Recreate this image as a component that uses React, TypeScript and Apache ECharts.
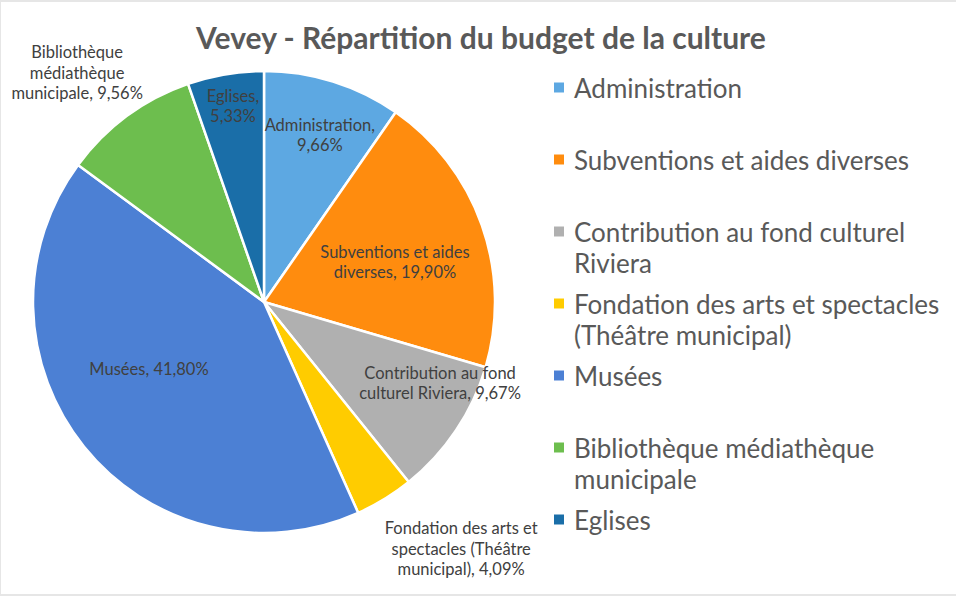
import React, { useEffect, useRef } from "react";
import * as echarts from "echarts";

const TITLE = "Vevey - Répartition du budget de la culture";
const categories = [
  "Administration",
  "Subventions et aides diverses",
  "Contribution au fond culturel Riviera",
  "Fondation des arts et spectacles (Théâtre municipal)",
  "Musées",
  "Bibliothèque médiathèque municipale",
  "Eglises",
];
const values = [9.66, 19.9, 9.67, 4.09, 41.8, 9.56, 5.33];
// how the names wrap in the slice labels and in the legend
const labelNames = [
  "Administration,\n",
  "Subventions et aides\ndiverses, ",
  "Contribution au fond\nculturel Riviera, ",
  "Fondation des arts et\nspectacles (Théâtre\nmunicipal), ",
  "Musées, ",
  "Bibliothèque\nmédiathèque\nmunicipale, ",
  "Eglises,\n",
];
const legendNames = [
  "Administration",
  "Subventions et aides diverses",
  "Contribution au fond culturel\nRiviera",
  "Fondation des arts et spectacles\n(Théâtre municipal)",
  "Musées",
  "Bibliothèque médiathèque\nmunicipale",
  "Eglises",
];
const colors = ["#5DA8E2", "#FF8C0E", "#B0B0B0", "#FFCC00", "#4C80D4", "#6DBE4E", "#1A6EA8"];

// label anchors: [angle in degrees clockwise from 12 o'clock, fraction of radius]
const labelAnchors: [number, number][] = [
  [18.5, 0.762],
  [73.0, 0.593],
  [114.7, 0.839],
  [141.4, 1.368],
  [239.8, 0.576],
  [320.8, 1.28],
  [351.0, 0.859],
];

const CX = 264;
const CY = 302;
const R = 231;

export default function App() {
  const ref = useRef<HTMLDivElement>(null);
  useEffect(() => {
    if (!ref.current) return;
    const chart = echarts.init(ref.current, null, { renderer: "svg" });
    const fmt = (v: number) => v.toFixed(2).replace(".", ",") + "%";
    chart.setOption({
      animation: false,
      backgroundColor: "#ffffff",
      color: colors,
      textStyle: { fontFamily: "Lato" },
      title: {
        text: TITLE,
        left: 481,
        top: 22,
        padding: 0,
        textAlign: "center",
        textStyle: { fontFamily: "Lato", fontWeight: "bold", fontSize: 30, color: "#595959" },
      },
      legend: {
        orient: "vertical",
        left: 552,
        top: 41,
        padding: 0,
        itemWidth: 12,
        itemHeight: 12,
        itemGap: -21,
        icon: "rect",
        selectedMode: false,
        data: categories,
        formatter: (name: string) => {
          const t = legendNames[categories.indexOf(name)];
          return " \n" + t + (t.indexOf("\n") < 0 ? "\n " : "");
        },
        textStyle: {
          fontFamily: "Lato",
          fontSize: 26,
          lineHeight: 31,
          color: "#595959",
          padding: [0, 0, 0, 4],
        },
      },
      series: [
        {
          type: "pie",
          center: [CX, CY],
          radius: R,
          startAngle: 90,
          clockwise: true,
          avoidLabelOverlap: false,
          itemStyle: { borderColor: "#ffffff", borderWidth: 2.5 },
          label: {
            show: true,
            position: "inside",
            fontFamily: "Lato",
            fontSize: 16.5,
            lineHeight: 20.5,
            color: "#404040",
            align: "center",
            formatter: (p: any) => labelNames[p.dataIndex] + fmt(p.value),
          },
          labelLine: { show: false },
          labelLayout: (p: any) => {
            const [a, f] = labelAnchors[p.dataIndex];
            const rad = (a * Math.PI) / 180;
            return {
              x: CX + f * R * Math.sin(rad),
              y: CY - f * R * Math.cos(rad),
              align: "center",
              verticalAlign: "middle",
            };
          },
          emphasis: { disabled: true },
          data: categories.map((c, i) => ({ name: c, value: values[i] })),
        },
      ],
    });
    return () => chart.dispose();
  }, []);
  return (
    <div style={{ position: "fixed", left: 0, top: 0, width: 956, height: 596 }}>
      <div ref={ref} style={{ position: "absolute", left: 0, top: 0, width: 956, height: 596 }} />
      <div
        style={{
          position: "absolute",
          left: 0,
          top: 0,
          width: 956,
          height: 596,
          boxSizing: "border-box",
          borderTop: "2px solid #e6e6e6",
          borderLeft: "1px solid #e6e6e6",
          borderBottom: "2px solid #e6e6e6",
          pointerEvents: "none",
        }}
      />
    </div>
  );
}
